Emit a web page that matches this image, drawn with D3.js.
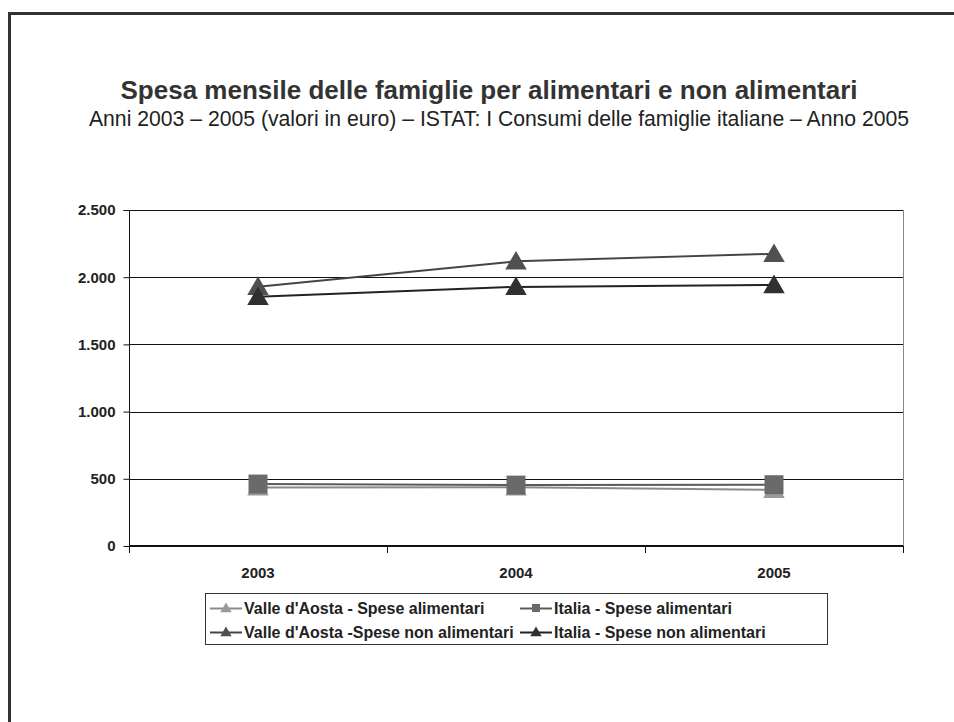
<!DOCTYPE html>
<html>
<head>
<meta charset="utf-8">
<script src="https://cdn.jsdelivr.net/npm/d3@7"></script>
<style>
  html, body { margin: 0; padding: 0; background: #fff; }
  svg { display: block; font-family: "Liberation Sans", Arial, sans-serif; }
</style>
</head>
<body>
<svg id="chart" width="954" height="722"></svg>
<script>
// Spesa media mensile familiare (euro), ISTAT 2003-2005
const years = ["2003", "2004", "2005"];
const vdaAlimentari = [436, 437, 418];
const italiaAlimentari = [461, 453, 456];
const vdaNonAlimentari = [1929, 2118, 2174];
const italiaNonAlimentari = [1854, 1928, 1942];
const yTicks = [0, 500, 1000, 1500, 2000, 2500];

const seriesNames = [
  "Valle d'Aosta - Spese alimentari",
  "Italia - Spese alimentari",
  "Valle d'Aosta -Spese non alimentari",
  "Italia - Spese non alimentari"
];

const series = [
  { name: seriesNames[0], values: vdaAlimentari, symbol: "triangle", fill: "#9a9a9a", stroke: "#8a8a8a" },
  { name: seriesNames[1], values: italiaAlimentari, symbol: "square", fill: "#6a6a6a", stroke: "#5a5a5a" },
  { name: seriesNames[2], values: vdaNonAlimentari, symbol: "triangle", fill: "#505050", stroke: "#444" },
  { name: seriesNames[3], values: italiaNonAlimentari, symbol: "triangle", fill: "#303030", stroke: "#222" }
];

const svg = d3.select("#chart");

// page frame (top and left edges)
svg.append("path")
  .attr("d", "M9.5,722 L9.5,13.5 L954,13.5")
  .attr("fill", "none").attr("stroke", "#333").attr("stroke-width", 3);

// titles
svg.append("text")
  .attr("x", 489).attr("y", 99)
  .attr("text-anchor", "middle")
  .attr("font-weight", "bold").attr("font-size", 26).attr("fill", "#333")
  .text("Spesa mensile delle famiglie per alimentari e non alimentari");
svg.append("text")
  .attr("x", 499).attr("y", 126)
  .attr("text-anchor", "middle")
  .attr("font-size", 21.2).attr("fill", "#222")
  .text("Anni 2003 \u2013 2005 (valori in euro) \u2013 ISTAT: I Consumi delle famiglie italiane \u2013 Anno 2005");

const m = { left: 129, top: 210, right: 903, bottom: 546 };

const x = d3.scaleBand().domain(years).range([m.left, m.right]);
const y = d3.scaleLinear().domain([0, 2500]).range([m.bottom, m.top]);

const g = svg.append("g");

// horizontal gridlines
g.selectAll("line.grid")
  .data(yTicks.filter(d => d > 0))
  .join("line")
  .attr("class", "grid")
  .attr("x1", m.left).attr("x2", m.right)
  .attr("y1", d => Math.round(y(d)) + 0.5).attr("y2", d => Math.round(y(d)) + 0.5)
  .attr("stroke", "#111").attr("stroke-width", 1);

// right edge of plot area
g.append("line")
  .attr("x1", m.right + 0.5).attr("x2", m.right + 0.5)
  .attr("y1", m.top).attr("y2", m.bottom)
  .attr("stroke", "#888").attr("stroke-width", 1);

const labelFont = 15;
const legendFont = 16;

// y axis
const yAxis = d3.axisLeft(y)
  .tickValues(yTicks)
  .tickSize(6)
  .tickPadding(8)
  .tickFormat(d => d3.format(",")(d).replace(/,/g, "."));
const ya = svg.append("g")
  .attr("transform", `translate(${m.left + 0.5},0)`)
  .call(yAxis);
ya.select(".domain").attr("stroke", "#111").attr("d", `M-6,${m.top + 0.5}H0V${m.bottom}`);
ya.selectAll(".tick line").attr("stroke", "#111");
ya.selectAll(".tick text")
  .attr("font-family", "Liberation Sans, Arial, sans-serif")
  .attr("font-weight", "bold").attr("font-size", labelFont).attr("fill", "#222");

// x axis
const xAxis = d3.axisBottom(x).tickSize(0).tickPadding(21);
const xa = svg.append("g")
  .attr("transform", `translate(0,${m.bottom})`)
  .call(xAxis);
xa.select(".domain").attr("stroke", "#111").attr("stroke-width", 2).attr("d", `M${m.left},0H${m.right}`);
xa.selectAll(".tick text")
  .attr("font-family", "Liberation Sans, Arial, sans-serif")
  .attr("font-weight", "bold").attr("font-size", labelFont).attr("fill", "#222");

// category boundary ticks
const bounds = years.map(d => x(d)).concat([m.right]);
xa.selectAll("line.bound")
  .data(bounds)
  .join("line")
  .attr("class", "bound")
  .attr("x1", d => Math.round(d) + 0.5).attr("x2", d => Math.round(d) + 0.5)
  .attr("y1", 0).attr("y2", 7)
  .attr("stroke", "#111");

const cx = d => x(d) + x.bandwidth() / 2;

function symbolPath(type, size) {
  const s = type === "square" ? d3.symbolSquare : d3.symbolTriangle;
  return d3.symbol().type(s).size(size)();
}

const line = d3.line().x((d, i) => cx(years[i])).y(d => y(d));

// series lines then markers
series.forEach(s => {
  svg.append("path")
    .datum(s.values)
    .attr("d", line)
    .attr("fill", "none")
    .attr("stroke", s.stroke)
    .attr("stroke-width", 2);
});
series.forEach(s => {
  svg.selectAll(null)
    .data(s.values)
    .join("path")
    .attr("transform", (d, i) => `translate(${cx(years[i])},${y(d) + (s.symbol === "triangle" ? 2 : 0)})`)
    .attr("d", symbolPath(s.symbol, s.symbol === "square" ? 360 : 200))
    .attr("fill", s.fill);
});

// legend
const lg = svg.append("g");
lg.append("rect")
  .attr("x", 205.5).attr("y", 593.5).attr("width", 622).attr("height", 51)
  .attr("fill", "#fff").attr("stroke", "#333").attr("stroke-width", 1);

const legendPos = [
  { x: 210, y: 608 }, { x: 520, y: 608 },
  { x: 210, y: 632 }, { x: 520, y: 632 }
];
series.forEach((s, i) => {
  const p = legendPos[i];
  const item = lg.append("g").attr("transform", `translate(${p.x},${p.y})`);
  item.append("line")
    .attr("x1", 0).attr("x2", 32).attr("y1", 0.5).attr("y2", 0.5)
    .attr("stroke", s.stroke).attr("stroke-width", 2);
  item.append("path")
    .attr("transform", `translate(16,${s.symbol === "triangle" ? 1 : 0})`)
    .attr("d", symbolPath(s.symbol, s.symbol === "square" ? 64 : 56))
    .attr("fill", s.fill);
  item.append("text")
    .attr("x", 34).attr("y", 6)
    .attr("font-weight", "bold").attr("font-size", legendFont).attr("fill", "#222")
    .text(s.name);
});
</script>
</body>
</html>
